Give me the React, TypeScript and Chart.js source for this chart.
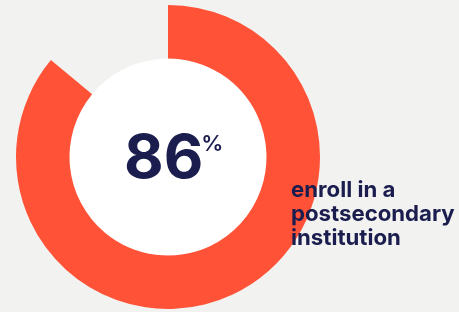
import React, { useEffect, useRef } from "react";
import { Chart, registerables } from "chart.js";

Chart.register(...registerables);

const categories = ["Enroll in a postsecondary institution", "Other"];
const values = [86, 14];
const bigLabel = "86";
const unitLabel = "%";
const captionLines = ["enroll in a", "postsecondary", "institution"];

const ORANGE = "#ff5237";
const NAVY = "#1a1d4e";
const BG = "#f2f2f0";

export default function App() {
  const ref = useRef<HTMLCanvasElement | null>(null);
  useEffect(() => {
    if (!ref.current) return;
    const textPlugin = {
      id: "centerText",
      afterDraw(chart: any) {
        const ctx = chart.ctx;
        const meta = chart.getDatasetMeta(0);
        const arc = meta.data[0];
        const cx = arc.x;
        const cy = arc.y;
        ctx.save();
        ctx.fillStyle = NAVY;
        ctx.textBaseline = "alphabetic";
        ctx.font = "700 61px Inter, 'Open Sans', sans-serif";
        ctx.textAlign = "left";
        const w = ctx.measureText(bigLabel).width;
        const startX = cx - 44;
        ctx.fillText(bigLabel, startX, cy + 21);
        ctx.font = "600 22px Inter, 'Open Sans', sans-serif";
        ctx.fillText(unitLabel, startX + w - 2, cy - 6);
        ctx.font = "700 22.2px Inter, 'Open Sans', sans-serif";
        captionLines.forEach((line, i) => {
          ctx.fillText(line, 291, 197 + i * 24);
        });
        ctx.restore();
      },
    };
    const chart = new Chart(ref.current, {
      type: "doughnut",
      data: {
        labels: categories,
        datasets: [
          {
            data: values,
            backgroundColor: [ORANGE, "rgba(0,0,0,0)"],
            borderWidth: 0,
            weight: 53.5,
          },
          {
            data: [values[0] + values[1]],
            backgroundColor: ["#ffffff"],
            borderWidth: 0,
            weight: 98.5,
          },
        ],
      },
      options: {
        responsive: false,
        animation: false,
        cutout: 0,
        hoverOffset: 0,
        layout: { padding: { left: 16, right: 139, top: 5, bottom: 3 } },
        plugins: {
          legend: { display: false },
          tooltip: { enabled: false },
        },
        events: [],
      },
      plugins: [textPlugin],
    } as any);
    return () => chart.destroy();
  }, []);
  return (
    <div style={{ position: "fixed", left: 0, top: 0, width: 459, height: 312, background: BG }}>
      <canvas ref={ref} width={459} height={312} style={{ display: "block" }} />
    </div>
  );
}
